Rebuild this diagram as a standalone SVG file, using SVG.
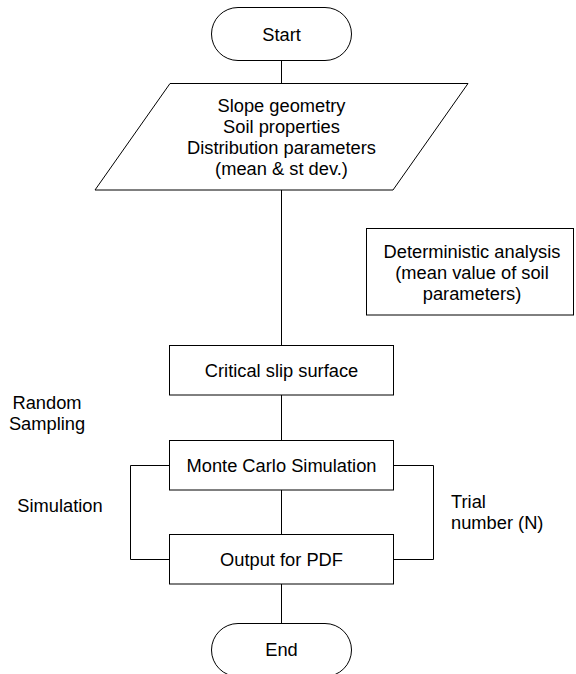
<svg xmlns="http://www.w3.org/2000/svg" width="576" height="674" viewBox="0 0 576 674">
<style>
.s{fill:#fff;stroke:#000;stroke-width:1}
.c{fill:none;stroke:#000;stroke-width:1}
text{font-family:"Liberation Sans",Arial,sans-serif;font-size:18.3px;fill:#000}
.m{text-anchor:middle}
</style>
<rect width="576" height="674" fill="#fff"/>
<g id="connectors">
<line class="c" x1="281.5" y1="60" x2="281.5" y2="83.5"/>
<line class="c" x1="281.5" y1="190" x2="281.5" y2="345.5"/>
<line class="c" x1="281.5" y1="395" x2="281.5" y2="440.5"/>
<line class="c" x1="281.5" y1="490" x2="281.5" y2="534.5"/>
<line class="c" x1="281.5" y1="584" x2="281.5" y2="623.5"/>
<polyline class="c" points="169.5,465.5 130.5,465.5 130.5,559.5 169.5,559.5"/>
<polyline class="c" points="393.5,465.5 433.5,465.5 433.5,559.5 393.5,559.5"/>
</g>
<g id="start">
<rect class="s" x="211.5" y="7.5" width="140" height="53" rx="26.5" ry="26.5"/>
<text class="m" x="281.5" y="40.5">Start</text>
</g>
<g id="input">
<polygon class="s" points="170,83.5 468,83.5 393,190 95,190"/>
<text class="m" x="281.5" y="112">Slope geometry</text>
<text class="m" x="281.5" y="133">Soil properties</text>
<text class="m" x="281.5" y="154">Distribution parameters</text>
<text class="m" x="281.5" y="175">(mean &amp; st dev.)</text>
</g>
<g id="deterministic">
<rect class="s" x="366.5" y="228.5" width="207" height="86.5"/>
<text class="m" x="472" y="257.5">Deterministic analysis</text>
<text class="m" x="472" y="278.5">(mean value of soil</text>
<text class="m" x="472" y="299.5">parameters)</text>
</g>
<g id="critical">
<rect class="s" x="169.5" y="345.5" width="224" height="49.5"/>
<text class="m" x="281.5" y="376.5">Critical slip surface</text>
</g>
<g id="montecarlo">
<rect class="s" x="169.5" y="440.5" width="224" height="49.5"/>
<text class="m" x="281.5" y="471.5">Monte Carlo Simulation</text>
</g>
<g id="output">
<rect class="s" x="169.5" y="534.5" width="224" height="49.5"/>
<text class="m" x="281.5" y="565.5">Output for PDF</text>
</g>
<g id="end">
<rect class="s" x="211.5" y="623.5" width="140" height="53" rx="26.5" ry="26.5"/>
<text class="m" x="281.5" y="656">End</text>
</g>
<g id="labels">
<text class="m" x="47" y="409">Random</text>
<text class="m" x="47" y="430">Sampling</text>
<text class="m" x="60" y="511.5">Simulation</text>
<text x="451" y="508">Trial</text>
<text x="451" y="529">number (N)</text>
</g>
</svg>
